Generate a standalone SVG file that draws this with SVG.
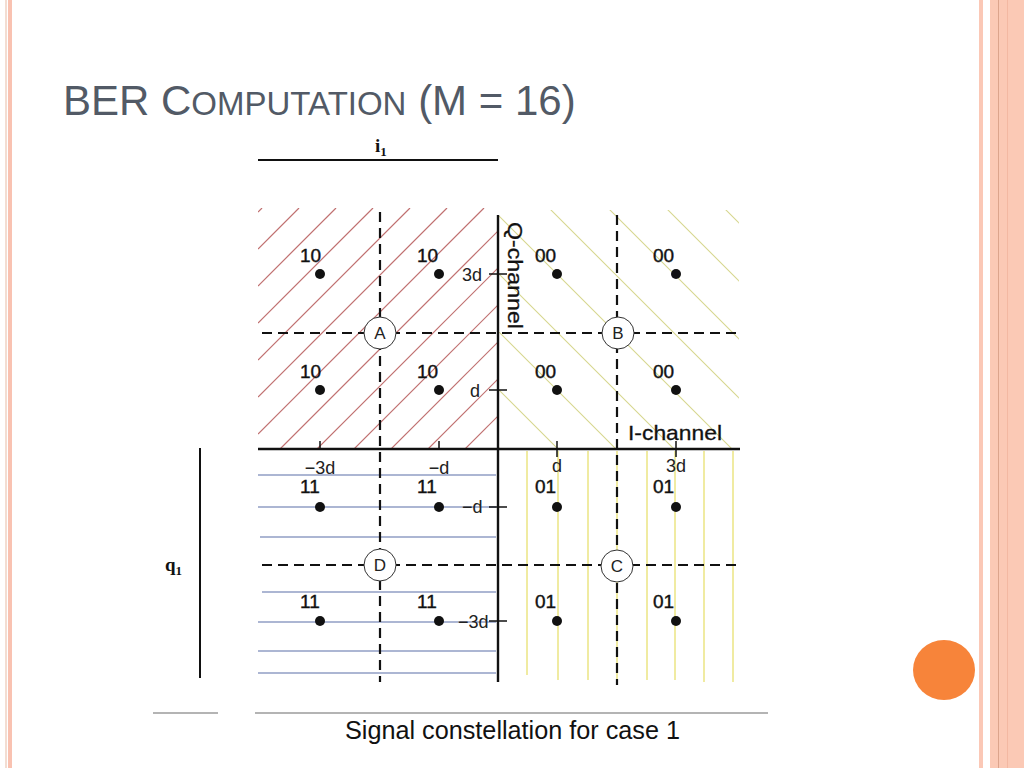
<svg xmlns="http://www.w3.org/2000/svg" width="1024" height="768" viewBox="0 0 1024 768">
<style>
.lbl{font-family:"Liberation Sans",Arial,sans-serif;font-size:19px;fill:#111;stroke:#111;stroke-width:0.4}
.ax{font-family:"Liberation Sans",Arial,sans-serif;font-size:18px;fill:#222}
.cl{font-family:"Liberation Sans",Arial,sans-serif;font-size:17px;fill:#222;text-anchor:middle}
.dash{stroke:#111;stroke-width:2.2;stroke-dasharray:10 6;fill:none}
.axis{stroke:#111;stroke-width:2.4}
.tick{stroke:#111;stroke-width:1.5}
.hA{stroke:#c07070;stroke-width:1.2}
.hB{stroke:#d6d68e;stroke-width:1.1}
.hD{stroke:#5a6ea8;stroke-width:1.2}
.hC{stroke:#e8e070;stroke-width:1.3}
.dot{fill:#111}
.ring{fill:#fff;stroke:#333;stroke-width:1}
</style>
<defs>
<clipPath id="cA"><rect x="258" y="208" width="239" height="241"/></clipPath>
<clipPath id="cB"><rect x="499" y="210" width="240" height="239"/></clipPath>
</defs>
<rect width="1024" height="768" fill="#fff"/>
<g id="border">
<rect x="5" y="0" width="2" height="768" fill="#f3ddd2"/>
<rect x="8" y="0" width="4" height="768" fill="#f9c2b1"/>
<rect x="979" y="0" width="4" height="768" fill="#fbc8b6"/>
<rect x="990" y="0" width="34" height="768" fill="#fbc9b5"/>
<rect x="998" y="0" width="1" height="768" fill="#dca48c"/>
<rect x="1007" y="0" width="1" height="768" fill="#f3b8a2"/>
<ellipse cx="944" cy="670" rx="31" ry="30" fill="#f7843a"/>
</g>
<g id="title">
<text x="63" y="115" font-family="Liberation Sans,Arial,sans-serif" fill="#525a66"><tspan font-size="42">BER C</tspan><tspan font-size="33">OMPUTATION</tspan><tspan font-size="42"> (M = 16)</tspan></text>
</g>
<g id="hatchA" clip-path="url(#cA)">
<line class="hA" x1="258" y1="212" x2="262" y2="208"/>
<line class="hA" x1="258" y1="249" x2="299" y2="208"/>
<line class="hA" x1="258" y1="286" x2="336" y2="208"/>
<line class="hA" x1="258" y1="323" x2="373" y2="208"/>
<line class="hA" x1="258" y1="360" x2="410" y2="208"/>
<line class="hA" x1="258" y1="397" x2="447" y2="208"/>
<line class="hA" x1="258" y1="434" x2="484" y2="208"/>
<line class="hA" x1="258" y1="471" x2="521" y2="208"/>
<line class="hA" x1="258" y1="508" x2="558" y2="208"/>
<line class="hA" x1="258" y1="545" x2="595" y2="208"/>
<line class="hA" x1="258" y1="582" x2="632" y2="208"/>
<line class="hA" x1="258" y1="619" x2="669" y2="208"/>
<line class="hA" x1="258" y1="656" x2="706" y2="208"/>
<line class="hA" x1="258" y1="693" x2="743" y2="208"/>
</g>
<g id="hatchB" clip-path="url(#cB)">
<line class="hB" x1="51" y1="0" x2="800" y2="749"/>
<line class="hB" x1="109" y1="0" x2="858" y2="749"/>
<line class="hB" x1="167" y1="0" x2="916" y2="749"/>
<line class="hB" x1="225" y1="0" x2="974" y2="749"/>
<line class="hB" x1="283" y1="0" x2="1032" y2="749"/>
<line class="hB" x1="341" y1="0" x2="1090" y2="749"/>
<line class="hB" x1="400" y1="0" x2="1149" y2="749"/>
<line class="hB" x1="458" y1="0" x2="1207" y2="749"/>
<line class="hB" x1="516" y1="0" x2="1265" y2="749"/>
</g>
<g id="hatchD">
<line class="hD" x1="258" y1="475" x2="496" y2="475"/>
<line class="hD" x1="258" y1="507" x2="496" y2="507"/>
<line class="hD" x1="260" y1="537" x2="496" y2="537"/>
<line class="hD" x1="262" y1="592" x2="496" y2="592"/>
<line class="hD" x1="258" y1="622" x2="496" y2="622"/>
<line class="hD" x1="258" y1="651" x2="496" y2="651"/>
<line class="hD" x1="258" y1="673" x2="496" y2="673"/>
</g>
<g id="hatchC">
<line class="hC" x1="527" y1="451" x2="527" y2="675"/>
<line class="hC" x1="558" y1="451" x2="558" y2="680"/>
<line class="hC" x1="588" y1="451" x2="588" y2="680"/>
<line class="hC" x1="617" y1="451" x2="617" y2="685"/>
<line class="hC" x1="647" y1="451" x2="647" y2="680"/>
<line class="hC" x1="675" y1="451" x2="675" y2="680"/>
<line class="hC" x1="704" y1="451" x2="704" y2="682"/>
<line class="hC" x1="733" y1="451" x2="733" y2="682"/>
</g>
<g id="connectors">
<line x1="258" y1="160" x2="498" y2="160" stroke="#111" stroke-width="2"/>
<line x1="200" y1="448" x2="200" y2="678" stroke="#111" stroke-width="2"/>
<line x1="153" y1="713" x2="218" y2="713" stroke="#b4b4b4" stroke-width="2"/>
<line x1="255" y1="713" x2="768" y2="713" stroke="#b4b4b4" stroke-width="2"/>
<line class="dash" x1="380" y1="212" x2="380" y2="682"/>
<line class="dash" x1="617" y1="215" x2="617" y2="685"/>
<line class="dash" x1="262" y1="333" x2="738" y2="333"/>
<line class="dash" x1="262" y1="565" x2="740" y2="565"/>
<line class="axis" x1="498" y1="215" x2="498" y2="682"/>
<line class="axis" x1="258" y1="449" x2="740" y2="449"/>
<line class="tick" x1="489" y1="274" x2="507" y2="274"/>
<line class="tick" x1="489" y1="390" x2="507" y2="390"/>
<line class="tick" x1="489" y1="507" x2="507" y2="507"/>
<line class="tick" x1="489" y1="621" x2="507" y2="621"/>
<line class="tick" x1="320" y1="441" x2="320" y2="449"/>
<line class="tick" x1="439" y1="441" x2="439" y2="449"/>
<line class="tick" x1="557" y1="441" x2="557" y2="457"/>
<line class="tick" x1="676" y1="441" x2="676" y2="457"/>
</g>
<g id="axisLabels">
<text x="375" y="152" font-family="Liberation Serif,serif" font-size="19" font-weight="bold" fill="#111">i<tspan font-size="13" dy="4">1</tspan></text>
<text x="165" y="571" font-family="Liberation Serif,serif" font-size="19" font-weight="bold" fill="#111">q<tspan font-size="13" dy="4">1</tspan></text>
<text class="ax" x="462" y="281">3d</text>
<text class="ax" x="470" y="397">d</text>
<text class="ax" x="462" y="513">−d</text>
<text class="ax" x="458" y="628">−3d</text>
<text class="ax" x="320" y="474" text-anchor="middle">−3d</text>
<text class="ax" x="439" y="474" text-anchor="middle">−d</text>
<text class="ax" x="557" y="472" text-anchor="middle">d</text>
<text class="ax" x="676" y="472" text-anchor="middle">3d</text>
<text x="0" y="0" transform="translate(508,222) rotate(90)" font-family="Liberation Sans,Arial,sans-serif" font-size="21" fill="#111" stroke="#111" stroke-width="0.3" textLength="107" lengthAdjust="spacingAndGlyphs">Q-channel</text>
<text x="628" y="440" font-family="Liberation Sans,Arial,sans-serif" font-size="21" fill="#111" stroke="#111" stroke-width="0.3" textLength="94" lengthAdjust="spacingAndGlyphs">I-channel</text>
</g>
<g id="regionA">
<circle class="ring" cx="380" cy="333" r="16"/><text class="cl" x="380" y="339">A</text>
<circle class="dot" cx="320" cy="274" r="5"/><text class="lbl" x="300" y="262">10</text>
<circle class="dot" cx="439" cy="274" r="5"/><text class="lbl" x="417" y="262">10</text>
<circle class="dot" cx="320" cy="390" r="5"/><text class="lbl" x="300" y="378">10</text>
<circle class="dot" cx="439" cy="390" r="5"/><text class="lbl" x="417" y="378">10</text>
</g>
<g id="regionB">
<circle class="ring" cx="618" cy="333" r="16"/><text class="cl" x="618" y="339">B</text>
<circle class="dot" cx="557" cy="274" r="5"/><text class="lbl" x="535" y="262">00</text>
<circle class="dot" cx="676" cy="274" r="5"/><text class="lbl" x="653" y="262">00</text>
<circle class="dot" cx="557" cy="390" r="5"/><text class="lbl" x="535" y="378">00</text>
<circle class="dot" cx="676" cy="390" r="5"/><text class="lbl" x="653" y="378">00</text>
</g>
<g id="regionD">
<circle class="ring" cx="380" cy="565" r="16"/><text class="cl" x="380" y="571">D</text>
<circle class="dot" cx="320" cy="507" r="5"/><text class="lbl" x="300" y="493">11</text>
<circle class="dot" cx="439" cy="507" r="5"/><text class="lbl" x="417" y="493">11</text>
<circle class="dot" cx="320" cy="621" r="5"/><text class="lbl" x="300" y="608">11</text>
<circle class="dot" cx="439" cy="621" r="5"/><text class="lbl" x="417" y="608">11</text>
</g>
<g id="regionC">
<circle class="ring" cx="617" cy="566" r="16"/><text class="cl" x="617" y="572">C</text>
<circle class="dot" cx="557" cy="507" r="5"/><text class="lbl" x="535" y="493">01</text>
<circle class="dot" cx="676" cy="507" r="5"/><text class="lbl" x="653" y="493">01</text>
<circle class="dot" cx="557" cy="621" r="5"/><text class="lbl" x="535" y="608">01</text>
<circle class="dot" cx="676" cy="621" r="5"/><text class="lbl" x="653" y="608">01</text>
</g>
<g id="caption">
<text x="345" y="739" font-family="Liberation Sans,Arial,sans-serif" font-size="25" fill="#111" textLength="335" lengthAdjust="spacingAndGlyphs">Signal constellation for case 1</text>
</g>
</svg>
